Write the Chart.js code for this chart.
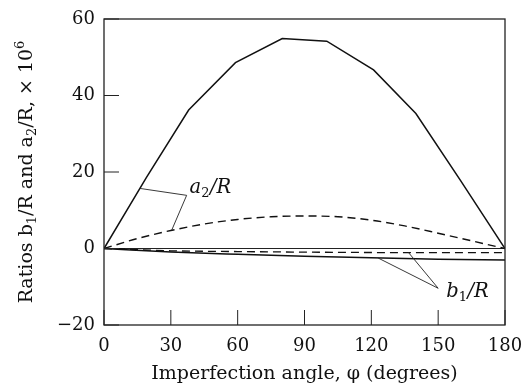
<!DOCTYPE html>
<html>
<head>
<meta charset="utf-8">
<script src="https://cdn.jsdelivr.net/npm/chart.js@4.4.1/dist/chart.umd.min.js"></script>
<style>
  html, body { margin: 0; padding: 0; background: #fff; }
  #wrap { width: 522px; height: 386px; }
</style>
</head>
<body>
<div id="wrap"><canvas id="c" width="522" height="386"></canvas></div>
<script>
// ---- data ----
const a2SolidAngles = [0, 19, 38, 59, 80, 100, 121, 140, 160, 180];
const a2SolidValues = [0, 18.5, 36.2, 48.6, 54.9, 54.2, 46.7, 35.3, 17.8, 0];

const a2DashAngles = [0, 15, 30, 45, 60, 75, 90, 105, 120, 135, 150, 165, 180];
const a2DashValues = [0, 2.6, 4.7, 6.4, 7.6, 8.3, 8.5, 8.3, 7.4, 5.9, 4.0, 2.0, 0];

const b1Angles = [0, 30, 60, 90, 120, 150, 180];
const b1SolidValues = [0, -0.9, -1.5, -2.0, -2.45, -2.8, -3.0];
const b1DashValues = [0, -0.6, -0.8, -0.95, -1.05, -1.1, -1.1];

const xTicks = [0, 30, 60, 90, 120, 150, 180];
const yTicks = [-20, 0, 20, 40, 60];

const xTitle = 'Imperfection angle, φ (degrees)';
// y title pieces: [text, kind]  kind: n = normal, sub = subscript, sup = superscript
const yTitleParts = [['Ratios b', 'n'], ['1', 'sub'], ['/R and a', 'n'], ['2', 'sub'], ['/R, \u00d7 10', 'n'], ['6', 'sup']];

// annotation anchors (data units)
const a2Leader = [[16.2, 15.7], [37.1, 13.9], [30.4, 4.8]];
const a2LabelAt = [38.4, 14.6];
const b1LeaderSolid = [[150, -10.4], [123.1, -2.5]];
const b1LeaderDash = [[150, -10.4], [136.6, -1.0]];
const b1LabelAt = [153.6, -12.6];

const FONT = "'DejaVu Serif', serif";
const toXY = (xs, ys) => xs.map((x, i) => ({ x: x, y: ys[i] }));

const framePlugin = {
  id: 'frame',
  afterDatasetsDraw(chart) {
    const { ctx, chartArea: a, scales: { x, y } } = chart;
    ctx.save();
    ctx.strokeStyle = '#222';
    ctx.lineWidth = 1.3;
    ctx.strokeRect(a.left, a.top, a.right - a.left, a.bottom - a.top);
    ctx.lineWidth = 1;
    ctx.beginPath();
    xTicks.forEach(v => {
      const px = x.getPixelForValue(v);
      ctx.moveTo(px, a.bottom);
      ctx.lineTo(px, a.bottom - 15);
    });
    yTicks.forEach(v => {
      const py = y.getPixelForValue(v);
      ctx.moveTo(a.left, py);
      ctx.lineTo(a.left + 15, py);
    });
    ctx.stroke();

    // leader lines
    ctx.lineWidth = 0.9;
    const poly = pts => {
      ctx.beginPath();
      pts.forEach((p, i) => {
        const px = x.getPixelForValue(p[0]), py = y.getPixelForValue(p[1]);
        if (i === 0) ctx.moveTo(px, py); else ctx.lineTo(px, py);
      });
      ctx.stroke();
    };
    poly(a2Leader);
    poly(b1LeaderSolid);
    poly(b1LeaderDash);

    // labels
    const label = (at, letter, sub) => {
      let px = x.getPixelForValue(at[0]);
      const py = y.getPixelForValue(at[1]);
      ctx.fillStyle = '#111';
      ctx.textBaseline = 'alphabetic';
      ctx.textAlign = 'left';
      ctx.font = "italic 19.5px " + FONT;
      ctx.fillText(letter, px, py);
      px += ctx.measureText(letter).width;
      ctx.font = "13px " + FONT;
      ctx.fillText(sub, px, py + 4);
      px += ctx.measureText(sub).width + 0.5;
      ctx.font = "italic 19.5px " + FONT;
      ctx.fillText('/R', px, py);
    };
    label(a2LabelAt, 'a', '2');
    label(b1LabelAt, 'b', '1');

    // y axis title (rotated, with real sub/superscripts)
    const big = "19px " + FONT, small = "13px " + FONT;
    let total = 0;
    yTitleParts.forEach(([t, k]) => { ctx.font = k === 'n' ? big : small; total += ctx.measureText(t).width; });
    ctx.translate(27.5, (a.top + a.bottom) / 2);
    ctx.rotate(-Math.PI / 2);
    let cx = -total / 2;
    ctx.fillStyle = '#111';
    ctx.textBaseline = 'middle';
    ctx.textAlign = 'left';
    yTitleParts.forEach(([t, k]) => {
      ctx.font = k === 'n' ? big : small;
      const dy = k === 'sub' ? 5 : (k === 'sup' ? -7 : 0);
      ctx.fillText(t, cx, dy);
      cx += ctx.measureText(t).width;
    });
    ctx.restore();
  }
};

new Chart(document.getElementById('c'), {
  type: 'line',
  data: {
    datasets: [
      { data: toXY(a2SolidAngles, a2SolidValues), borderColor: '#111', borderWidth: 1.5, tension: 0 },
      { data: toXY(a2DashAngles, a2DashValues), borderColor: '#111', borderWidth: 1.4, borderDash: [8, 5], tension: 0.4, cubicInterpolationMode: 'monotone' },
      { data: toXY(b1Angles, b1SolidValues), borderColor: '#111', borderWidth: 1.5, tension: 0.4, cubicInterpolationMode: 'monotone' },
      { data: toXY(b1Angles, b1DashValues), borderColor: '#111', borderWidth: 1.3, borderDash: [8, 5], tension: 0.4, cubicInterpolationMode: 'monotone' }
    ]
  },
  options: {
    responsive: false,
    animation: false,
    devicePixelRatio: 1,
    layout: { padding: { top: 19, right: 17, left: 0, bottom: 0 } },
    elements: { point: { radius: 0 } },
    plugins: { legend: { display: false }, tooltip: { enabled: false } },
    scales: {
      x: {
        type: 'linear', min: 0, max: 180,
        afterBuildTicks(s) { s.ticks = xTicks.map(v => ({ value: v })); },
        ticks: { color: '#111', font: { family: FONT, size: 18 }, padding: 3, maxRotation: 0, autoSkip: false },
        grid: { display: false },
        border: { display: false },
        title: { display: true, text: xTitle, color: '#111', font: { family: FONT, size: 19 }, padding: { top: 0, bottom: 1 } },
        afterFit(s) { s.height = 61; s.paddingLeft = 0; s.paddingRight = 0; }
      },
      y: {
        min: -20, max: 60,
        afterBuildTicks(s) { s.ticks = yTicks.map(v => ({ value: v })); },
        ticks: { color: '#111', font: { family: FONT, size: 18 }, padding: 9, callback: v => (v < 0 ? '\u2212' + Math.abs(v) : String(v)) },
        grid: { drawTicks: false, lineWidth: 1, color: c => (c.tick && c.tick.value === 0 ? '#222' : 'rgba(0,0,0,0)') },
        border: { display: false },
        title: { display: false },
        afterFit(s) { s.width = 104; s.paddingTop = 0; s.paddingBottom = 0; }
      }
    }
  },
  plugins: [framePlugin]
});
</script>
</body>
</html>
